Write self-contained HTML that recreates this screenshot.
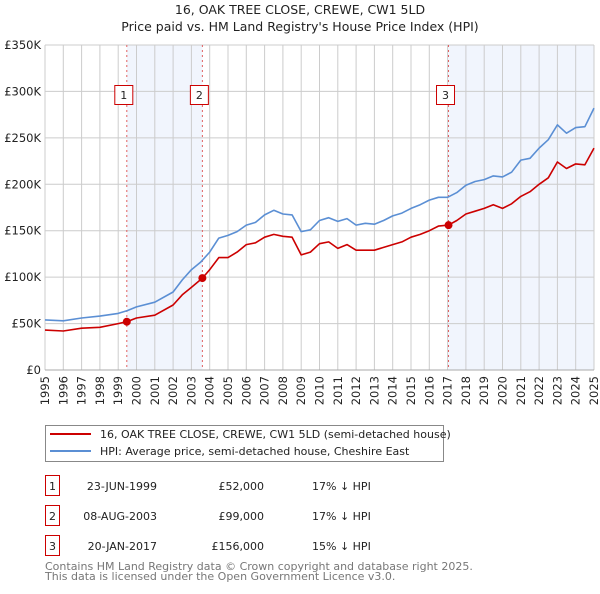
<!DOCTYPE html>
<html><head><meta charset="utf-8">
<style>
body{margin:0;background:#fff;font-family:"DejaVu Sans","Liberation Sans",sans-serif;}
svg text{font-family:"DejaVu Sans","Liberation Sans",sans-serif;}
</style></head>
<body>
<svg id="chart" width="600" height="590" xmlns="http://www.w3.org/2000/svg">
<text x="300" y="14" text-anchor="middle" font-size="12.5" fill="#222">16, OAK TREE CLOSE, CREWE, CW1 5LD</text>
<text x="300" y="31" text-anchor="middle" font-size="12.5" fill="#222">Price paid vs. HM Land Registry's House Price Index (HPI)</text>
<g id="plot"></g>
<g>
<rect x="45.5" y="425.5" width="398" height="36" fill="#fff" stroke="#888"/>
<line x1="50" y1="434" x2="91" y2="434" stroke="#cc0000" stroke-width="2"/>
<text x="100" y="438" font-size="11" fill="#222">16, OAK TREE CLOSE, CREWE, CW1 5LD (semi-detached house)</text>
<line x1="50" y1="451" x2="91" y2="451" stroke="#5b8fd4" stroke-width="2"/>
<text x="100" y="455" font-size="11" fill="#222">HPI: Average price, semi-detached house, Cheshire East</text>
</g>
<g id="table"></g>
<text x="45" y="570" font-size="11" fill="#777">Contains HM Land Registry data © Crown copyright and database right 2025.</text>
<text x="45" y="580" font-size="11" fill="#777">This data is licensed under the Open Government Licence v3.0.</text>
</svg>
<script>
const hpiYears=[1995,1996,1997,1998,1999,1999.5,2000,2001,2002,2002.5,2003,2003.5,2004,2004.5,2005,2005.5,2006,2006.5,2007,2007.5,2008,2008.5,2009,2009.5,2010,2010.5,2011,2011.5,2012,2012.5,2013,2013.5,2014,2014.5,2015,2015.5,2016,2016.5,2017,2017.5,2018,2018.5,2019,2019.5,2020,2020.5,2021,2021.5,2022,2022.5,2023,2023.5,2024,2024.5,2025];
const hpiValues=[54,53,56,58,61,64,68,73,84,97,108,116,127,142,145,149,156,159,167,172,168,167,149,151,161,164,160,163,156,158,157,161,166,169,174,178,183,186,186,191,199,203,205,209,208,213,226,228,239,248,264,255,261,262,282];
const propYears=[1995,1996,1997,1998,1999,1999.47,2000,2001,2002,2002.5,2003,2003.6,2004,2004.5,2005,2005.5,2006,2006.5,2007,2007.5,2008,2008.5,2009,2009.5,2010,2010.5,2011,2011.5,2012,2012.5,2013,2013.5,2014,2014.5,2015,2015.5,2016,2016.5,2017.05,2017.5,2018,2018.5,2019,2019.5,2020,2020.5,2021,2021.5,2022,2022.5,2023,2023.5,2024,2024.5,2025];
const propValues=[43,42,45,46,50,52,56,59,70,81,89,99,108,121,121,127,135,137,143,146,144,143,124,127,136,138,131,135,129,129,129,132,135,138,143,146,150,155,156,161,168,171,174,178,174,179,187,192,200,207,224,217,222,221,239];
const saleYears=[1999.47,2003.6,2017.05];
const saleValues=[52,99,156];
const saleLabels=["1","2","3"];
const saleDates=["23-JUN-1999","08-AUG-2003","20-JAN-2017"];
const salePrices=["£52,000","£99,000","£156,000"];
const saleDiffs=["17% ↓ HPI","17% ↓ HPI","15% ↓ HPI"];
const yTicks=[0,50,100,150,200,250,300,350];
const yTickLabels=["£0","£50K","£100K","£150K","£200K","£250K","£300K","£350K"];
const xTicks=[1995,1996,1997,1998,1999,2000,2001,2002,2003,2004,2005,2006,2007,2008,2009,2010,2011,2012,2013,2014,2015,2016,2017,2018,2019,2020,2021,2022,2023,2024,2025];

const X0=45,X1=594,Y0=370,Y1=45;
const xs=v=>X0+(v-1995)/30*(X1-X0);
const ys=v=>Y0-(v/350)*(Y0-Y1);
const NS="http://www.w3.org/2000/svg";
const plot=document.getElementById('plot');
function mk(tag,attrs,parent){const e=document.createElementNS(NS,tag);for(const k in attrs)e.setAttribute(k,attrs[k]);parent.appendChild(e);return e;}

let r=mk('rect',{x:xs(saleYears[0]),y:Y1,width:xs(saleYears[1])-xs(saleYears[0]),height:Y0-Y1,fill:'#eef3fc',opacity:0.8},plot);


r=mk('rect',{x:xs(saleYears[2]),y:Y1,width:X1-xs(saleYears[2]),height:Y0-Y1,fill:'#eef3fc',opacity:0.8},plot);



yTicks.forEach((t,i)=>{
 const l=mk('line',{x1:X0,x2:X1,y1:ys(t),y2:ys(t),stroke:'#cccccc','stroke-width':1},plot);
 
 
 const tx=mk('text',{x:X0-4,y:ys(t)+4,'text-anchor':'end','font-size':11.5,fill:'#222'},plot);
 tx.textContent=yTickLabels[i];
 
 
});
xTicks.forEach(t=>{
 const l=mk('line',{x1:xs(t),x2:xs(t),y1:Y1,y2:Y0,stroke:'#cccccc','stroke-width':1},plot);
 
 
 const tx=mk('text',{x:0,y:0,'text-anchor':'end','font-size':11.5,fill:'#222',transform:`translate(${xs(t)+4},${Y0+6}) rotate(-90)`},plot);
 tx.textContent=t;
 
 
});
saleYears.forEach((s,i)=>{
 const l=mk('line',{x1:xs(s),x2:xs(s),y1:Y1,y2:Y0,stroke:'#e06060','stroke-width':1,'stroke-dasharray':'2,3'},plot);
 
 
});
function path(xv,yv,color,name){
 const d=xv.map((x,i)=>(i?'L':'M')+xs(x).toFixed(1)+','+ys(yv[i]).toFixed(1)).join('');
 const p=mk('path',{d:d,fill:'none',stroke:color,'stroke-width':1.6,'stroke-linejoin':'round'},plot);
 
 
}
path(hpiYears,hpiValues,'#5b8fd4','hpi-line');
path(propYears,propValues,'#cc0000','property-line');
saleYears.forEach((s,i)=>{
 const c=mk('circle',{cx:xs(s),cy:ys(saleValues[i]),r:4,fill:'#cc0000'},plot);
 
 
 const bx=xs(s)-12;
 const b=mk('rect',{x:bx,y:85.5,width:18,height:19,fill:'#fff',stroke:'#cc0000'},plot);
 
 
 const t=mk('text',{x:bx+9,y:99,'text-anchor':'middle','font-size':11,fill:'#222'},plot);
 t.textContent=saleLabels[i];
 
 
});
const ax=mk('line',{x1:X0,x2:X1,y1:Y0,y2:Y0,stroke:'#aaa'},plot);



const table=document.getElementById('table');
saleLabels.forEach((lab,i)=>{
 const y=495+i*30;
 const b=mk('rect',{x:45.5,y:y-19.5,width:14,height:20,fill:'#fff',stroke:'#cc0000'},table);
 
 
 const cells=[[52.5,lab,'middle'],[157,saleDates[i],'end'],[264,salePrices[i],'end'],[312,saleDiffs[i],'start']];
 cells.forEach(c=>{
  const t=mk('text',{x:c[0],y:y-5,'text-anchor':c[2],'font-size':11,fill:'#222'},table);
  t.textContent=c[1];
  
  
 });
});
</script>
</body></html>
